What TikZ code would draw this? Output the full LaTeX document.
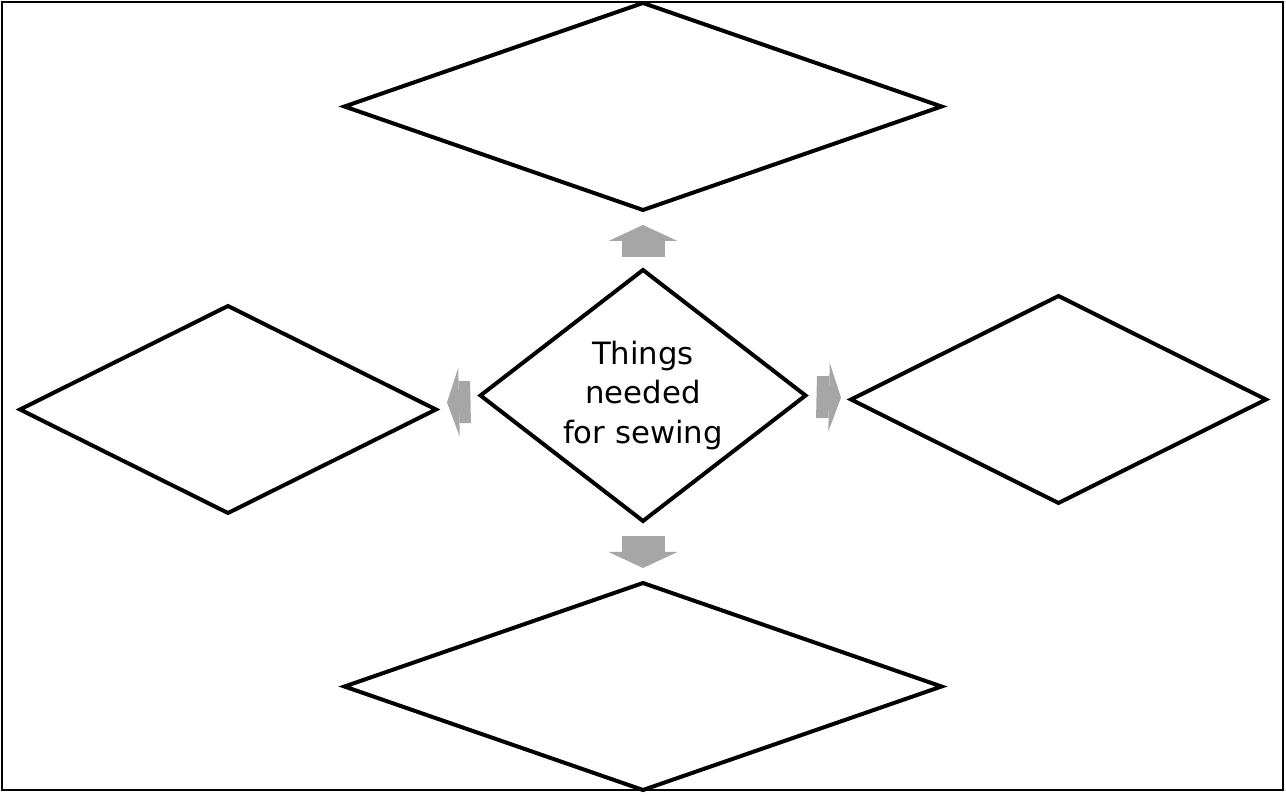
\documentclass[tikz,border=0pt]{standalone}
\definecolor{arrowgray}{RGB}{166, 166, 166}
\usepackage{fontspec}
\setmainfont{DejaVu Sans}
\usepackage{tikz}
\usetikzlibrary{shapes.geometric, arrows.meta, positioning, calc}

\begin{document}
\begin{tikzpicture}[
    leaf/.style={draw, diamond, line width=0.08cm, inner sep=0pt, outer sep=0pt, minimum width=11.94cm, minimum height=4.14cm},
    sideleaf/.style={leaf, minimum width=8.3cm},
    flowup/.style={draw=arrowgray, line width=0.86cm, -{Triangle[length=0.32cm, width=1.38cm, line width=0pt]}},
    flowside/.style={draw=arrowgray, line width=0.84cm, -{Triangle[length=0.24cm, width=1.38cm, line width=0pt]}}
  ]
  \useasboundingbox (0, 0) rectangle (25.72, 15.9);
  \draw[line width=0.04cm] (0.04, 0.1) rectangle (25.66, 15.86);

  % Centre
  \node[leaf, inner sep=-0.15cm, minimum width=6.5cm, minimum height=5.02cm, align=center, font=\fontsize{17.5}{22.5}\selectfont] (hub) at (12.86, 7.99) {Things\\needed\\for sewing};

  % Four empty diamonds
  \node[leaf] (top) at (12.86, 13.77) {};
  \node[leaf] (bottom) at (12.86, 2.17) {};
  \node[sideleaf, minimum width=8.32cm] (left) at (4.56, 7.71) {};
  \node[sideleaf] (right) at (21.17, 7.91) {};

  % Gray arrows
  \draw[flowup] ([yshift=0.26cm]hub.north) -- ([yshift=-0.3cm]top.south);
  \draw[flowup] ([yshift=-0.3cm]hub.south) -- ([yshift=0.3cm]bottom.north);
  \draw[flowside] ([xshift=-0.2cm, yshift=-0.13cm]hub.west) -- ([xshift=0.22cm, yshift=0.14cm]left.east);
  \draw[flowside] ([xshift=0.22cm, yshift=-0.03cm]hub.east) -- ([xshift=-0.2cm, yshift=0.04cm]right.west);
\end{tikzpicture}
\end{document}
